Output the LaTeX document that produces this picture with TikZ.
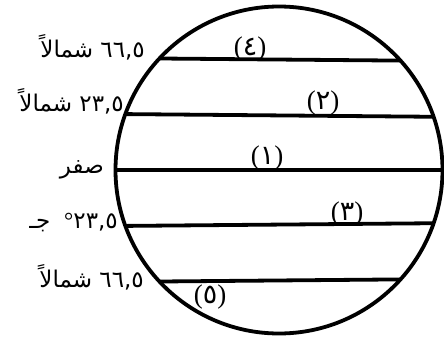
\documentclass[tikz,border=0pt]{standalone}
\usepackage{fontspec}
\setmainfont{Liberation Serif}
\newfontfamily\arabicfont[Script=Arabic]{DejaVu Sans}
\TeXXeTstate=1
\begin{document}
\begin{tikzpicture}[x=1pt,y=-1pt,
  lat/.style={line width=3.8pt},
  lbl/.style={inner sep=0pt, anchor=base east, font=\fontsize{23}{23}\selectfont},
  num/.style={inner sep=0pt, font=\fontsize{27}{27}\selectfont}]
\useasboundingbox (0,0) rectangle (444,340);
\node[circle, draw, line width=3.8pt, inner sep=0pt, outer sep=0pt, minimum size=327pt] (globe) at (279,170) {};
% latitude lines
\draw[lat] (globe.137.24) -- (globe.42.76);
\draw[lat] (globe.160.16) -- (globe.19.84);
\draw[lat] (globe.180) -- (globe.0);
\draw[lat] (globe.-160.16) -- (globe.-19.84);
\draw[lat] (globe.-137.24) -- (globe.-42.76);
% numbers on lines
\node[num] (n4) at (250,49) {(\arabicfont ٤\rmfamily)};
\node[num] (n2) at (323,103) {(\arabicfont ٢\rmfamily)};
\node[num] (n1) at (267,158) {(\arabicfont ١\rmfamily)};
\node[num] (n3) at (347,214) {(\arabicfont ٣\rmfamily)};
\node[num] (n5) at (210,297) {(\arabicfont ٥\rmfamily)};
% left labels
\node[lbl] (l4) at (145,57) {\arabicfont شمالاً\ ٦٦,٥};
\node[lbl] (l2) at (124,111) {\arabicfont شمالاً\ ٢٣,٥};
\node[lbl] (l1) at (104,173) {\arabicfont صفر};
\node[lbl] (l3) at (118,228) {{\arabicfont جـ}\hspace{14pt}°{\arabicfont ٢٣,٥}};
\node[lbl] (l5) at (144,287) {\arabicfont شمالاً\ ٦٦,٥};
\end{tikzpicture}
\end{document}
